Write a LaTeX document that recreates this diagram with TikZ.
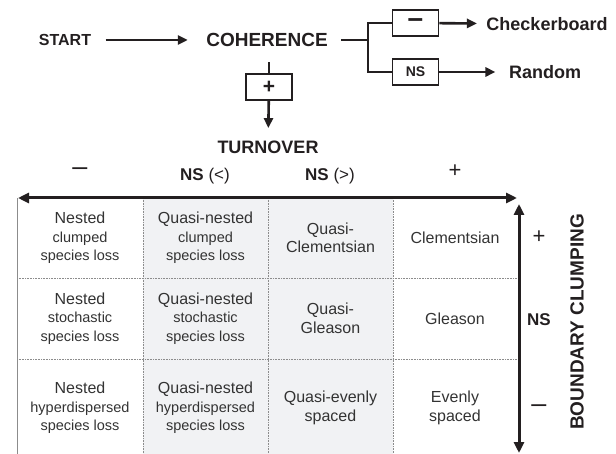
\documentclass[tikz,border=0pt]{standalone}
\usepackage{fontspec}
\setmainfont{Liberation Sans}
\usetikzlibrary{arrows.meta}

\definecolor{cellgray}{HTML}{F1F2F4}
\definecolor{celltext}{HTML}{333333}
\definecolor{inkblack}{HTML}{231F20}
\definecolor{rulegray}{HTML}{8C8C8C}

\newcommand{\minor}[1]{{\fontsize{14.5}{18}\selectfont #1}}

\begin{document}
\begin{tikzpicture}[x=1pt,y=-1pt,
  head/.style={text=inkblack, font=\bfseries\fontsize{16}{19}\selectfont},
  sign/.style={text=inkblack, font=\fontsize{22}{22}\selectfont},
  dash sign/.style={text=inkblack, font=\fontsize{27}{27}\selectfont},
  cell/.style={align=center, text=celltext, font=\fontsize{16}{18.5}\selectfont},
  gate/.style={draw=inkblack, line width=1.8pt, minimum width=46pt, minimum height=26pt,
    inner sep=0pt, text=inkblack, font=\bfseries\fontsize{14}{14}\selectfont},
  flow/.style={draw=inkblack, line width=2.6pt},
  tip/.style={-{Triangle[length=10pt,width=9pt]}},
  axis/.style={draw=inkblack, line width=3pt,
    {Triangle[length=11pt,width=10pt]}-{Triangle[length=11pt,width=10pt]}},
  gridline/.style={rulegray, line width=0.6pt, dash pattern=on 0.8pt off 0.8pt}]

  \useasboundingbox (0,0) rectangle (616,454);

  % --- Flow at the top ---
  \node[head] (start) at (65,40) {START};
  \node[head, font=\bfseries\fontsize{19}{22}\selectfont] (coh) at (267,40) {COHERENCE};
  \coordinate (br) at (368,40);
  \node[gate, font=\bfseries\fontsize{28}{28}\selectfont] (neg) at (415.5,23) {–};
  \node[gate] (nsg) at (415.5,72) {NS};
  \node[gate, font=\bfseries\fontsize{21}{21}\selectfont] (pos) at (269,87) {+};
  \node[head, font=\bfseries\fontsize{18}{20}\selectfont] (checker) at (547,24) {Checkerboard};
  \node[head, font=\bfseries\fontsize{18}{20}\selectfont] (random) at (545,72) {Random};
  \node[head, font=\bfseries\fontsize{18}{20}\selectfont] (turn) at (268,147) {TURNOVER};

  \draw[flow, tip, shorten <=11pt, shorten >=15pt] (start) -- (coh);
  \draw[flow, shorten <=10pt] (coh.east) -- (br);
  \draw[flow] (neg.west) -| (br) |- (nsg.west);
  \draw[flow, tip, shorten >=6pt] (neg) -- (checker);
  \draw[flow, tip, shorten >=10pt] (nsg) -- (random);
  \draw[flow, shorten <=12pt] (coh.south -| pos.north) -- (pos.north);
  \draw[flow, tip, shorten >=9pt] (pos) -- (turn);

  % --- Table ---
  \fill[cellgray] (143,198) rectangle (393,454);
  \draw[gridline] (17,278) -- (519,278);
  \draw[gridline] (17,359) -- (519,359);
  \draw[gridline] (143,198) -- (143,454);
  \draw[gridline] (268,198) -- (268,454);
  \draw[gridline] (393,198) -- (393,454);
  \draw[rulegray, line width=0.6pt] (17,198) -- (17,454);

  \node[cell] (c11) at (80,238) {Nested\\\minor{clumped}\\\minor{species loss}};
  \node[cell] (c12) at (205.5,238) {Quasi-nested\\\minor{clumped}\\\minor{species loss}};
  \node[cell] (c13) at (330.5,238) {Quasi-\\Clementsian};
  \node[cell] (c14) at (455,238) {Clementsian};

  \node[cell] (c21) at (80,318.5) {Nested\\\minor{stochastic}\\\minor{species loss}};
  \node[cell] (c22) at (205.5,318.5) {Quasi-nested\\\minor{stochastic}\\\minor{species loss}};
  \node[cell] (c23) at (330.5,318.5) {Quasi-\\Gleason};
  \node[cell] (c24) at (455,318.5) {Gleason};

  \node[cell] (c31) at (80,408) {Nested\\\minor{hyperdispersed}\\\minor{species loss}};
  \node[cell] (c32) at (205.5,408) {Quasi-nested\\\minor{hyperdispersed}\\\minor{species loss}};
  \node[cell] (c33) at (330.5,408) {Quasi-evenly\\spaced};
  \node[cell] (c34) at (455,408) {Evenly\\spaced};

  % --- Axes ---
  \coordinate (hleft) at (18,198);
  \coordinate (hright) at (517,198);
  \coordinate (vtop) at (519,204);
  \coordinate (vbot) at (519,453);
  \draw[axis] (hleft) -- (hright);
  \draw[axis] (vtop) -- (vbot);

  \node[dash sign] (tneg) at (80,172) {–};
  \node[sign, font=\fontsize{17}{20}\selectfont] (tnsl) at (205,176) {\textbf{NS} (<)};
  \node[sign, font=\fontsize{17}{20}\selectfont] (tnsg) at (330,176) {\textbf{NS} (>)};
  \node[sign] (tpos) at (455,171) {+};

  \node[sign] (rpos) at (539,237) {+};
  \node[head, font=\bfseries\fontsize{17}{20}\selectfont] (rns) at (539,320) {NS};
  \node[dash sign] (rneg) at (539,409) {–};
  \node[head, font=\bfseries\fontsize{19}{22}\selectfont, rotate=90] (clump) at (577,322) {BOUNDARY CLUMPING};

\end{tikzpicture}
\end{document}
